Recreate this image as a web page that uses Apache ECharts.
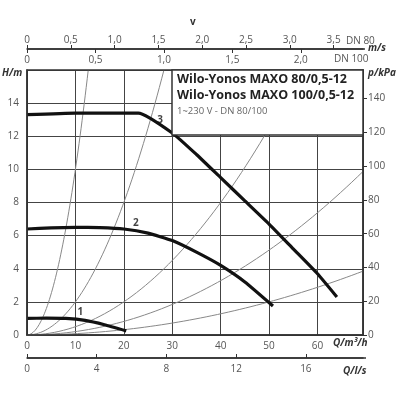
<!DOCTYPE html>
<html><head><meta charset="utf-8">
<script src="https://cdn.jsdelivr.net/npm/echarts@6/dist/echarts.min.js"></script>
<style>html,body{margin:0;padding:0;background:#fff}#c{width:400px;height:400px}</style>
</head><body><div id="c"></div>
<script>
const qMax = 69.4;
const hMax = 16;
const qTicks = [0, 10, 20, 30, 40, 50, 60];
const lsTicks = [0, 4, 8, 12, 16];
const v80Ticks = [0, 0.5, 1.0, 1.5, 2.0, 2.5, 3.0, 3.5];
const v100Ticks = [0, 0.5, 1.0, 1.5, 2.0];
const curve1 = [[0,1.0],[4,1.02],[8,1.0],[12,0.88],[16,0.62],[20.5,0.25]];
const curve2 = [[0,6.4],[5,6.47],[10,6.5],[15,6.48],[20,6.4],[25,6.15],[30,5.7],[35,5.0],[40,4.2],[45,3.2],[50.8,1.75]];
const curve3 = [[0,13.3],[10,13.4],[23,13.4],[30,12.2],[35,10.9],[40,9.5],[45,8.1],[50,6.7],[55,5.2],[60,3.7],[64,2.3]];
const systemK = [0.1, 0.02, 0.005, 0.00205, 0.0008];
const curveLabels = [["1",11,1.35],["2",22.5,6.75],["3",27.5,12.95]];

const font = 'Open Sans';
const grey = '#555';
function fmt(v){ return String(v).replace('.', ','); }
function sysCurve(k){
  const pts=[]; const qEnd=Math.min(qMax, Math.sqrt(hMax/k));
  for(let i=0;i<=60;i++){ const q=qEnd*i/60; pts.push([q,k*q*q]); }
  return pts;
}
const v80Max = qMax/3600/(Math.PI*0.04*0.04);
const v100Max = qMax/3600/(Math.PI*0.05*0.05);
const series = [];
systemK.forEach(k=>series.push({type:'line',data:sysCurve(k),showSymbol:false,silent:true,
  lineStyle:{color:'#888',width:1},z:2}));
[curve1,curve2,curve3].forEach(c=>series.push({type:'line',data:c,smooth:0.15,showSymbol:false,
  lineStyle:{color:'#111',width:3.2},z:5}));
series.push({type:'scatter',data:curveLabels.map(l=>[l[1],l[2],l[0]]),symbolSize:0,z:6,
  label:{show:true,formatter:p=>p.value[2],color:'#111',fontWeight:'bold',fontSize:10,fontFamily:font}});
const vfmt = v=>v===0?'0':fmt(v.toFixed(1));

const chart = echarts.init(document.getElementById('c'));
chart.setOption({
  animation:false,
  grid:{left:27,right:37,top:70,bottom:65},
  xAxis:[
    {type:'value',min:0,max:qMax,interval:10,position:'bottom',
     axisLine:{onZero:false,lineStyle:{color:'#333',width:1.5}},axisTick:{show:false},
     splitLine:{lineStyle:{color:'#444',width:1}},
     axisLabel:{color:grey,fontSize:10,fontFamily:font,showMaxLabel:false,margin:6}},
    {type:'value',min:0,max:qMax/3.6,interval:4,position:'bottom',offset:23,
     axisLine:{show:true,onZero:false,lineStyle:{color:'#333',width:1.5}},axisTick:{show:true,inside:true,length:4,lineStyle:{color:'#333'}},
     splitLine:{show:false},axisLabel:{color:grey,fontSize:10,fontFamily:font,showMaxLabel:false,margin:6}},
    {type:'value',min:0,max:v80Max,interval:0.5,position:'top',offset:21,
     axisLine:{show:true,onZero:false,lineStyle:{color:'#333',width:1.5}},axisTick:{show:true,length:4,lineStyle:{color:'#333'}},
     splitLine:{show:false},axisLabel:{color:grey,fontSize:10,fontFamily:font,showMaxLabel:false,formatter:vfmt,margin:4}},
    {type:'value',min:0,max:v100Max,interval:0.5,position:'top',offset:21,
     axisLine:{show:false,onZero:false},axisTick:{show:true,inside:true,length:4,lineStyle:{color:'#333'}},
     splitLine:{show:false},axisLabel:{inside:true,color:grey,fontSize:10,fontFamily:font,showMaxLabel:false,formatter:vfmt,margin:6}}
  ],
  yAxis:[
    {type:'value',min:0,max:hMax,interval:2,axisLine:{show:true,onZero:false,lineStyle:{color:'#333',width:1.5}},
     axisTick:{show:false},splitLine:{lineStyle:{color:'#444',width:1}},
     axisLabel:{color:grey,fontSize:10,fontFamily:font,showMaxLabel:false,margin:8}},
    {type:'value',min:0,max:hMax*9.81,interval:20,position:'right',
     axisLine:{show:true,onZero:false,lineStyle:{color:'#333',width:1.5}},axisTick:{show:true,length:4,lineStyle:{color:'#333'}},
     splitLine:{show:false},axisLabel:{color:grey,fontSize:10,fontFamily:font,margin:5,showMaxLabel:false}}
  ],
  series:series,
  graphic:[
    {type:'line',shape:{x1:27,y1:49,x2:365,y2:49},style:{stroke:'#333',lineWidth:1.5}},
    {type:'line',shape:{x1:27,y1:358,x2:366,y2:358},style:{stroke:'#333',lineWidth:1.5}},
    {type:'rect',shape:{x:27,y:70,width:336,height:265},style:{fill:'none',stroke:'#333',lineWidth:1.5},z:20,silent:true},
    {type:'rect',shape:{x:172,y:70,width:191,height:65},style:{fill:'#fff',stroke:'#333',lineWidth:1.5},z:30},
    {type:'text',x:177,y:73,style:{text:'Wilo-Yonos MAXO 80/0,5-12',font:'bold 12.5px "Open Sans"',fill:'#222'},z:31},
    {type:'text',x:177,y:89,style:{text:'Wilo-Yonos MAXO 100/0,5-12',font:'bold 12.5px "Open Sans"',fill:'#222'},z:31},
    {type:'text',x:177,y:106,style:{text:'1~230 V - DN 80/100',font:'9.5px "Open Sans"',fill:'#666'},z:31},
    {type:'text',x:2,y:68,style:{text:'H/m',font:'italic bold 10px "Open Sans"',fill:'#333'}},
    {type:'text',x:368,y:68,style:{text:'p/kPa',font:'italic bold 10px "Open Sans"',fill:'#333'}},
    {type:'text',x:333,y:338,style:{text:'Q/m³/h',font:'italic bold 10px "Open Sans"',fill:'#333'}},
    {type:'text',x:343,y:366,style:{text:'Q/l/s',font:'italic bold 10px "Open Sans"',fill:'#333'}},
    {type:'text',x:346,y:36,style:{text:'DN 80',font:'10px "Open Sans"',fill:grey}},
    {type:'text',x:334,y:54,style:{text:'DN 100',font:'10px "Open Sans"',fill:grey}},
    {type:'text',x:368,y:43,style:{text:'m/s',font:'italic bold 10px "Open Sans"',fill:'#333'}},
    {type:'text',x:190,y:17,style:{text:'v',font:'bold 10px "Open Sans"',fill:'#333'}}
  ]
});
</script></body></html>
